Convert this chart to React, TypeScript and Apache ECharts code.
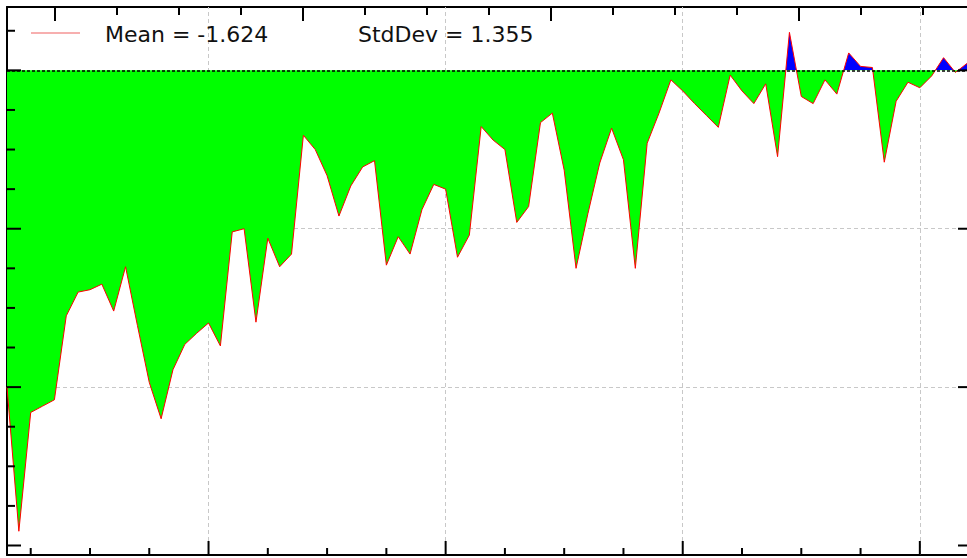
import React, { useEffect, useRef } from "react";
import * as echarts from "echarts";

const xValues = [
  3, 4, 5, 6, 7, 8, 9, 10, 11, 12,
  13, 14, 15, 16, 17, 18, 19, 20, 21, 22,
  23, 24, 25, 26, 27, 28, 29, 30, 31, 32,
  33, 34, 35, 36, 37, 38, 39, 40, 41, 42,
  43, 44, 45, 46, 47, 48, 49, 50, 51, 52,
  53, 54, 55, 56, 57, 58, 59, 60, 61, 62,
  63, 64, 65, 66, 67, 68, 69, 70, 71, 72,
  73, 74, 75, 76, 77, 78, 79, 80, 81, 82,
  83, 84,
];

const yValues = [
  -2.0, -2.91, -2.16, -2.12, -2.08, -1.55, -1.4, -1.385, -1.35, -1.52,
  -1.24, -1.61, -1.97, -2.2, -1.89, -1.73, -1.66, -1.595, -1.74, -1.02,
  -1.0, -1.59, -1.06, -1.24, -1.16, -0.41, -0.5, -0.665, -0.92, -0.73,
  -0.61, -0.57, -1.23, -1.05, -1.16, -0.88, -0.72, -0.75, -1.18, -1.04,
  -0.355, -0.44, -0.5, -0.96, -0.86, -0.33, -0.27, -0.63, -1.25, -0.905,
  -0.585, -0.365, -0.565, -1.25, -0.46, -0.27, -0.06, -0.13, -0.21, -0.285,
  -0.36, -0.03, -0.13, -0.21, -0.085, -0.545, 0.24, -0.165, -0.21, -0.06,
  -0.15, 0.11, 0.025, 0.018, -0.58, -0.195, -0.075, -0.11, -0.035, 0.08,
  -0.013, 0.045,
];

const meanLabel = "Mean = -1.624";
const stdLabel = "StdDev = 1.355";

const xMajorTicks = [20, 40, 60, 80];
const xMinorTicks = [5, 10, 15, 25, 30, 35, 45, 50, 55, 65, 70, 75];
const yMajorTicks = [0, -1, -2, -3];
const yMinorTicks = [0.25, -0.25, -0.5, -0.75, -1.25, -1.5, -1.75, -2.25, -2.5, -2.75];
const topMajorTicks = [0, 4, 8, 12];
const topMinorTicks = [1, 2, 3, 5, 6, 7, 9, 10, 11, 13, 14];
const xGridLines = [20, 40, 60, 80];
const yGridLines = [-1, -2];

const X_MIN = 3;
const X_MAX = 84.4;
const Y_MIN = -3.06;
const Y_MAX = 0.4;
const TOP_MIN = -0.774;
const TOP_MAX = 14.79;

const FONT = '22px "DejaVu Sans", sans-serif';

function tickSeries(
  data: number[][],
  xAxisIndex: number,
  yAxisIndex: number,
  dx: number,
  dy: number
) {
  return {
    type: "custom",
    xAxisIndex,
    yAxisIndex,
    silent: true,
    z: 20,
    clip: false,
    data,
    renderItem: (params: any, api: any) => {
      const p = api.coord([api.value(0), api.value(1)]);
      return {
        type: "line",
        shape: { x1: p[0], y1: p[1], x2: p[0] + dx, y2: p[1] + dy },
        style: { stroke: "#000", lineWidth: 2 },
      };
    },
  };
}

export default function App() {
  const ref = useRef<HTMLDivElement>(null);

  useEffect(() => {
    if (!ref.current) return;
    const chart = echarts.init(ref.current, undefined, { renderer: "svg" });
    const pairs = xValues.map((x, i) => [x, yValues[i]]);

    const lineBlack = { color: "#000", width: 2 };
    const baseAxis = {
      type: "value",
      axisLabel: { show: false },
      axisTick: { show: false },
      splitLine: { show: false },
    };

    chart.setOption({
      animation: false,
      backgroundColor: "#fff",
      grid: { left: 7, top: 7, right: 18, bottom: 3, containLabel: false },
      xAxis: [
        {
          ...baseAxis,
          position: "bottom",
          min: X_MIN,
          max: X_MAX,
          axisLine: { show: true, onZero: false, lineStyle: lineBlack },
        },
        {
          ...baseAxis,
          position: "top",
          min: TOP_MIN,
          max: TOP_MAX,
          axisLine: { show: true, onZero: false, lineStyle: lineBlack },
        },
      ],
      yAxis: [
        {
          ...baseAxis,
          position: "left",
          min: Y_MIN,
          max: Y_MAX,
          axisLine: { show: true, onZero: false, lineStyle: lineBlack },
        },
        {
          ...baseAxis,
          position: "right",
          min: Y_MIN,
          max: Y_MAX,
          axisLine: { show: true, onZero: false, lineStyle: lineBlack },
        },
      ],
      visualMap: {
        type: "piecewise",
        show: false,
        dimension: 1,
        seriesIndex: 0,
        pieces: [
          { gte: -100, lt: 0, color: "#00ff00" },
          { gte: 0, lte: 100, color: "#0000ff" },
        ],
        outOfRange: { color: "#00ff00" },
      },
      graphic: [
        {
          type: "line",
          shape: { x1: 31, y1: 33, x2: 80, y2: 33 },
          style: { stroke: "#f06060", lineWidth: 1.2 },
          z: 100,
        },
        {
          type: "text",
          x: 105,
          y: 34,
          style: { text: meanLabel, font: FONT, fill: "#111", verticalAlign: "middle", align: "left" },
          z: 100,
        },
        {
          type: "text",
          x: 358,
          y: 34,
          style: { text: stdLabel, font: FONT, fill: "#111", verticalAlign: "middle", align: "left" },
          z: 100,
        },
      ],
      series: [
        {
          type: "line",
          name: "area",
          xAxisIndex: 0,
          yAxisIndex: 0,
          data: pairs,
          symbol: "none",
          silent: true,
          z: 2,
          lineStyle: { width: 0, opacity: 0 },
          areaStyle: { opacity: 1 },
          markLine: {
            silent: true,
            symbol: ["none", "none"],
            label: { show: false },
            z: 10,
            lineStyle: { color: "#000", type: [3, 2], width: 1.5 },
            data: [{ yAxis: 0 }],
          },
        },
        {
          type: "line",
          name: meanLabel,
          xAxisIndex: 0,
          yAxisIndex: 0,
          data: pairs,
          symbol: "none",
          silent: true,
          z: 3,
          lineStyle: { color: "#ff0000", width: 1 },
          markLine: {
            silent: true,
            symbol: ["none", "none"],
            label: { show: false },
            z: 1,
            lineStyle: { color: "#c8c8c8", type: [4, 3], width: 1 },
            data: [
              ...xGridLines.map((v) => ({ xAxis: v })),
              ...yGridLines.map((v) => ({ yAxis: v })),
            ],
          },
        },
        tickSeries(xMajorTicks.map((v) => [v, Y_MIN]), 0, 0, 0, -14),
        tickSeries(xMinorTicks.map((v) => [v, Y_MIN]), 0, 0, 0, -7),
        tickSeries(topMajorTicks.map((v) => [v, Y_MAX]), 1, 0, 0, 14),
        tickSeries(topMinorTicks.map((v) => [v, Y_MAX]), 1, 0, 0, 8),
        tickSeries(yMajorTicks.map((v) => [X_MIN, v]), 0, 0, 14, 0),
        tickSeries(yMinorTicks.map((v) => [X_MIN, v]), 0, 0, 8, 0),
        tickSeries(yMajorTicks.map((v) => [X_MAX, v]), 0, 0, -14, 0),
      ],
    });

    return () => chart.dispose();
  }, []);

  return (
    <div
      style={{
        position: "absolute",
        left: 0,
        top: 0,
        width: 967,
        height: 558,
        overflow: "hidden",
        background: "#fff",
      }}
    >
      <div ref={ref} style={{ width: 990, height: 558 }} />
    </div>
  );
}
